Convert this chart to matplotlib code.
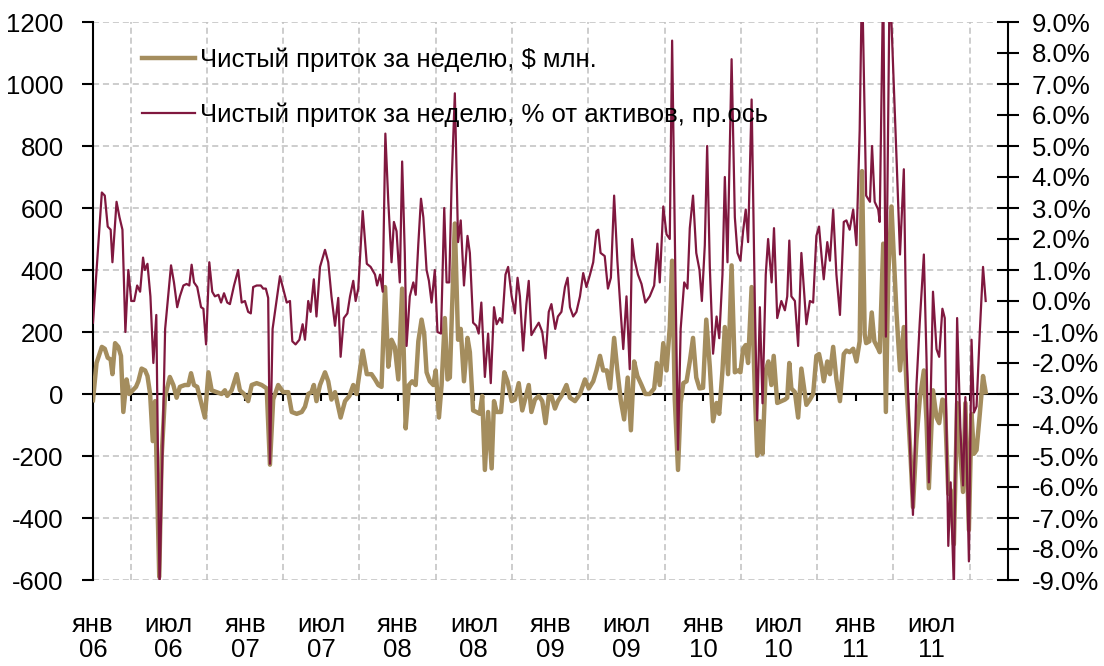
import numpy as np
import pandas as pd
import matplotlib
matplotlib.use('Agg')
import matplotlib.pyplot as plt
from matplotlib.ticker import FuncFormatter

plt.rcParams['font.family'] = ['Liberation Sans', 'DejaVu Sans']
plt.rcParams['font.size'] = 18.5

# weekly readings, position in weeks from 1 Jan 2006
usd_weeks = [0, 1.2, 3, 4, 5, 6, 6.6, 7.5, 8.6, 9.5, 10.3, 11.4, 12.3, 13.5, 14.6, 15.4, 16.5, 17.7, 18.5, 19.4,
             20.3, 21.1, 22.5, 23.3, 24.4, 26.1, 27.3, 28.4, 29.5, 31.2, 32.4, 33.3, 34.3, 35.4, 36.6, 38, 39.2,
             40.3, 42, 43.7, 44.8, 45.6, 47.1, 48.8, 49.9, 51.3, 52.7, 53.9, 55.6, 57.3, 59, 60.1, 61.2, 62.9,
             64.6, 66.3, 67.5, 69.2, 70.9, 72, 73.1, 74.2, 75, 75.9, 77.1, 78.8, 79.9, 81, 82.2, 84.1, 85.6,
             87.1, 88.4, 89.5, 91.6, 93, 94.6, 95.8, 96.9, 98, 99.2, 100.3, 101.4, 102.5,
             103.7, 105, 106.2, 107.3, 108.4, 109.6, 110.5, 111.6, 112.5, 113.3, 114.4, 115.6, 116.4, 117.5,
             118.4, 119.5, 120.4, 121.2, 122.9, 124, 124.9, 126, 127.2, 128, 129.1, 130.2, 131.4, 132.2, 133.1,
             134.2, 135.4, 136.2, 137.1, 138.6, 139.7, 140.8, 142.2, 143.3, 144.6, 145.8, 146.9, 148, 148.9,
             150.1, 151.4, 152.6, 153.7, 154.8, 155.7, 156.9, 157.9, 159.1, 160.8, 162, 163.7, 165.4, 167.1,
             168.4, 169.9, 171, 172.2, 173.3, 174.5, 175.6, 177, 178.1, 179.3, 180.4, 181.6, 182.7, 183.8,
             184.9, 186.3, 187.6, 189.1, 190.6, 191.5, 192.5, 193.7, 194.8, 195.9, 196.7, 197.6, 198.7, 199.6,
             200.5, 201.6, 202.7, 203.8, 204.9, 206, 207.2,
             208.3, 209.5, 210.6, 211.8, 212.7, 213.8, 214.6, 215.7, 216.9, 218, 219.1, 219.9, 220.8, 221.7,
             222.5, 223.7, 224.8, 225.6, 226.5, 227.4, 228.5, 229.4, 230.4, 231.2, 232.4, 233.8, 235, 235.8,
             236.5, 237.2, 238.4, 239.5, 240.6, 242.3, 243.5, 244.6, 245.7, 246.6, 247.5, 248.2, 249.4, 250.3,
             251.4, 252.5, 253.7, 255, 255.9, 257, 258.2, 259.3, 260.4, 261.2, 262.1, 262.6, 263.7, 264.5,
             265.4, 266.7, 267.2, 268.4, 269.3, 270.1, 271.2, 272.9, 274.1, 275.4, 276.3, 277.7, 278.5, 279.7,
             280.8, 282.2, 283.1, 283.9, 285.3, 286.5, 287.4, 288.5, 289.3, 290.5, 291.3, 292.4, 293.5, 294.6,
             295.5, 296.3, 297.5, 298.4, 299.2, 300.1, 301.2, 302.3, 303.2]
usd_flow = [-20, 100, 152, 146, 117, 111, 64, 164, 152, 123, -58, 47, 0, 12, 23, 41, 82, 76, 58, 0,
            -152, -23, -590, -205, -12, 55, 29, -12, 23, 29, 29, 67, 29, 23, -23, -76, 70,
            12, 6, 0, 12, -6, 12, 64, 12, 0, -23, 29, 35, 29, 18, -228, -18, 29,
            6, 6, -58, -64, -58, -41, 0, 6, 29, -23, 29, 70, 41, -18, 6, -76, -23,
            -6, 29, 0, 140, 64, 64, 47, 29, 23, 345, 88, 175, 152,
            47, 340, -111, 29, 41, 29, 170, 240, 193, 70, 41, 29, 76, -76,
            29, 245, 47, 53, 550, 175, 210, 41, 181, 135, -53, -58, -64, -6, -245,
            -58, -240, -23, -58, -58, 70, 41, -23, -18, 35, -53, -12, 29, -58,
            -18, -6, -23, -94, -6, -6, -47, -23, -6, 29, -12, -23, 0, 47,
            18, 41, 76, 123, 76, 76, 18, 181, 76, -23, -82, 53, -117, 105,
            58, 29, 0, 0, 18, 100, 29, 164, 76, 216, 430, -18, -245, -29,
            35, 41, 105, 181, 53, 18, 20,
            240, 88, -88, -29, -64, 76, 216, 64, 415, 70, 76, 70, 146, 158,
            100, 345, 6, -199, -88, -193, 76, 105, 29, 123, -29, -23, -18, -12,
            100, 18, 6, -76, 82, -35, -18, 0, 123, 129, 88, 41, 105, 64,
            152, 47, -23, 129, 140, 135, 146, 105, 170, 719, 193, 164, 170, 263,
            170, 146, 135, 485, -58, 380, 605, 263, 76, 216, 29, -205, -365, -146,
            -18, 76, -88, -304, 12, -76, -94, -18, -23, -322, -310, -485, -29, -187,
            -316, -29, -439, -64, -193, -181, -64, 58, 6]

pct_weeks = [0, 3, 4, 5, 6, 6.6, 8, 9, 10, 11, 12, 13, 14, 15, 16, 17, 17.6, 18.5, 19.5, 20.5, 21.5, 22.6,
             24.5, 26.5, 27.5, 28.6, 29.5, 30.7, 31.8, 32.7, 33.5, 34.3, 35.4, 36.7, 37.5, 38.4, 39.5, 40.5,
             41.4, 42.6, 43.5, 44.5, 45.6, 46.5, 47.9, 49.3, 50.5, 51.6, 52.7, 53.6, 54.4, 55.6, 57, 57.8,
             58.7, 59.5, 60.1, 61, 63.5, 64.6, 65.8, 66.9, 67.7, 68.8, 70.1, 71.2, 72, 73.1, 73.9, 75, 75.9,
             77.1, 78.8, 79.9, 81, 82.2, 83.3, 84.1, 85.2, 86.4, 87.3, 88.4, 89.2, 90.1, 91.6, 93, 94.3,
             95.8, 96.5, 97.5, 98.4, 99.3, 100.3, 101.4, 102.2, 103.1, 104.2,
             105, 105.9, 106.5, 107.6, 108.8, 109.6, 110.5, 111.4, 112.2, 113.3, 114.1, 115, 116.1, 117,
             118.2, 119.3, 120.1, 121, 121.8, 122.9, 124, 124.9, 126, 127.2, 128, 129.1, 130.2, 131, 131.9,
             133.1, 134.2, 135.1, 136.2, 137.1, 138.2, 139, 140.1, 141, 142.2, 143.3, 144.2, 145, 146.1,
             147.2, 148, 148.9, 150.1, 151.4, 152.6, 153.7, 154.8, 155.7, 157, 157.9, 159.1, 160.3, 161.2,
             162, 163.1, 164.2, 165.4, 166.5, 167.6, 168.8, 169.9, 171, 171.6, 172.4, 173.8, 174.9, 175.9,
             177, 178.1, 179.3, 180.1, 181.2, 182.3, 183.1, 183.9, 185.1, 186.3, 187.6, 189.1, 190.6, 191.7,
             192.5, 193.7, 194.8, 195.9, 196.7, 197.8, 198.7, 199.6, 200.8, 201.9, 202.7, 203.8, 204.9, 206,
             206.8, 207.8,
             208.6, 209.5, 210.6, 211.8, 212.7, 213.8, 214.6, 215.5, 216.9, 218, 218.9, 219.9, 220.8, 221.7,
             222.5, 223.7, 224.8, 225.6, 226.5, 227.4, 228.5, 229.3, 230.5, 231.3, 232.4, 233.8, 235, 235.8,
             236.5, 237.2, 238.4, 239.5, 240.6, 242.3, 243.5, 244.6, 245.7, 246.6, 247.5, 248.2, 249.4, 250.3,
             251.4, 252.5, 253.7, 255, 255.9, 257, 258.2, 259.3, 260.4, 261.2, 262.6, 263.9, 264.6, 265.5,
             266.7, 267.2, 268.4, 269.3, 270.6, 273, 274.1, 275.4, 276.3, 277.7, 278.5, 279.7, 280.8, 282.2,
             283.1, 283.9, 285.3, 286.5, 287.4, 288.5, 289.3, 290.5, 291.3, 292.4, 293.5, 294.6, 295.5, 296.3,
             297.5, 298.4, 299.2, 300.1, 301.2, 302.3, 303.2]
pct_flow = [-0.7, 3.5, 3.4, 2.4, 2.3, 1.25, 3.2, 2.7, 2.3, -1.0, 1.0, 0.0, 0.0, 0.5, 0.3, 1.4, 1.0, 1.2, 0.15, -2.0, -0.45, -9.3,
            -0.9, 1.15, 0.6, -0.2, 0.15, 0.5, 0.55, 0.5, 1.17, 0.6, 0.45, -0.2, -0.25, -1.4, 1.25, 0.3,
            0.15, 0.2, -0.05, 0.25, -0.05, -0.1, 0.5, 1.0, -0.05, 0.0, -0.35, -0.4, 0.45, 0.5, 0.5, 0.4,
            0.4, 0.1, -5.25, -0.9, 0.8, 0.4, -0.05, 0.0, -1.3, -1.4, -1.25, -0.75, -1.25, 0.0, -0.35, 0.7, -0.5,
            1.1, 1.65, 1.25, 0.15, -0.8, 0.1, -1.8, -0.55, -0.4, 0.15, 0.65, 0.0, 0.4, 2.9, 1.2, 1.1,
            0.85, 0.5, 0.85, 0.3, 5.4, 3.2, 1.25, 2.55, 2.25, 0.6,
            4.5, 1.55, -1.45, 0.15, 0.6, 0.2, 1.85, 3.3, 2.7, 1.0, 0.65, -0.05, 1.0, -1.0,
            -1.05, 3.0, 0.6, 0.6, 3.8, 6.7, 1.9, 2.6, 0.5, 2.1, 1.55, -0.7, -0.8, -1.05, -0.05,
            -2.45, -1.05, -2.65, -0.2, -0.75, -0.55, -0.7, 0.85, 1.1, 0.15, -0.4, 0.75, 0.15, -1.6,
            -0.1, 0.65, -1.1, -0.9, -0.7, -1.0, -1.85, -0.35, -0.1, -0.9, -0.5, -0.35, 0.45, 0.75,
            -0.2, -0.5, -0.35, 0.15, 0.9, 0.45, 0.85, 1.25, 2.25, 2.3, 1.55, 1.45, 0.4, 0.75,
            3.4, 1.3, -0.45, -1.55, 0.15, -2.2, 2.0, 1.35, 0.85, 0.55, -0.05, 0.15, 0.5, 1.85,
            0.6, 3.05, 2.15, 2.0, 8.4, 0.85, -4.8, -0.9, 0.6, 0.4, 2.35, 3.4, 1.55, 1.0,
            0.0, 1.8,
            5.0, 1.1, -1.7, -0.5, -1.2, 0.85, 4.0, 1.25, 7.8, 2.7, 1.55, 1.3, 2.25, 2.95,
            1.9, 6.5, -0.1, -3.85, -0.2, -3.3, 0.85, 2.0, 0.6, 2.35, -0.55, 0.0, -0.3, 0.15,
            1.95, 0.15, 0.0, -1.45, 1.55, -0.75, 0.0, -0.05, 2.1, 2.4, 1.4, 0.7, 1.9, 1.3,
            2.95, 0.85, -0.45, 2.55, 2.6, 2.3, 2.95, 1.8, 5.5, 10.5, 3.4, 3.2, 5.0, 3.2,
            2.95, 2.55, 10.5, -1.15, 10.5, 4.4, 1.5, 4.25, -1.5, -5.25, -6.9, -2.7, -0.7, 1.5,
            -1.85, -5.85, 0.3, -1.55, -1.8, -0.25, -0.55, -7.9, -5.85, -9.3, -0.55, -4.1, -5.95, -3.1,
            -8.4, -1.25, -3.6, -3.4, -1.0, 1.1, 0.0]

legend_labels = ['Чистый приток за неделю, \\$ млн.',
                 'Чистый приток за неделю, % от активов, пр.ось']
month_names = {1: 'янв', 7: 'июл'}

tan = '#A48D5E'
maroon = '#80183F'
grid_color = '#C0C0C0'

start = pd.Timestamp('2006-01-01')
x_usd = start + pd.to_timedelta(np.array(usd_weeks) * 7.05, unit='D')
x_pct = start + pd.to_timedelta(np.array(pct_weeks) * 7.05, unit='D')

fig = plt.figure(figsize=(11.04, 6.66), dpi=100)
ax = fig.add_axes([93 / 1104, 1 - 580 / 666, 915 / 1104, 558 / 666])
ax2 = ax.twinx()

l1, = ax.plot(x_usd, usd_flow, color=tan, lw=3.2, solid_joinstyle='round', zorder=3)
l2, = ax2.plot(x_pct, pct_flow, color=maroon, lw=1.6, solid_joinstyle='round', zorder=3)

xmin, xmax = pd.Timestamp('2006-01-01'), pd.Timestamp('2012-01-01')
ax.set_xlim(xmin, xmax)
ax.set_ylim(-600, 1200)
ax2.set_ylim(-9, 9)

# grid
ax.set_yticks(np.arange(-600, 1201, 200))
ax.yaxis.grid(True, color=grid_color, lw=1.1, dashes=(4, 2.5))
quarters = pd.date_range('2006-01-01', '2012-01-01', freq='QS')
ax.set_xticks(quarters, minor=True)
ax.xaxis.grid(True, which='minor', color=grid_color, lw=1.1, dashes=(4, 2.5))
ax.set_axisbelow(True)

label_dates = pd.date_range('2006-01-01', '2011-07-01', freq='6MS')
ax.set_xticks(label_dates, [month_names[d.month] + '\n' + d.strftime('%y') for d in label_dates])
ax.tick_params(axis='x', which='both', length=0, pad=24)
for t in ax.get_xticklabels():
    t.set_linespacing(1.05)

# zero axis line with quarterly ticks
ax.axhline(0, color='black', lw=1.5, zorder=2)
ax.vlines(quarters[1:-1], -22, 0, color='black', lw=1.5, zorder=2)

ax.yaxis.set_major_formatter(FuncFormatter(lambda v, p: f'{v:.0f}'))
ax.tick_params(axis='y', direction='out', length=8, width=1.5, pad=13)
ax2.set_yticks(np.arange(-9, 9.1, 1))
ax2.yaxis.set_major_formatter(FuncFormatter(lambda v, p: f'{v:.1f}%'))
ax2.tick_params(axis='y', direction='inout', length=16, width=1.5, pad=9)

for s in ['top', 'bottom']:
    ax.spines[s].set_visible(False)
    ax2.spines[s].set_visible(False)
ax.spines['right'].set_visible(False)
ax2.spines['left'].set_visible(False)
ax.spines['left'].set_linewidth(1.5)
ax2.spines['right'].set_linewidth(1.5)

ax2.legend([l1, l2], legend_labels, loc='upper left', bbox_to_anchor=(0.054, 0.955),
           frameon=False, borderaxespad=0, borderpad=0, handlelength=2.05,
           handletextpad=0.2, labelspacing=1.2)

fig.savefig('out.png', dpi=100)
